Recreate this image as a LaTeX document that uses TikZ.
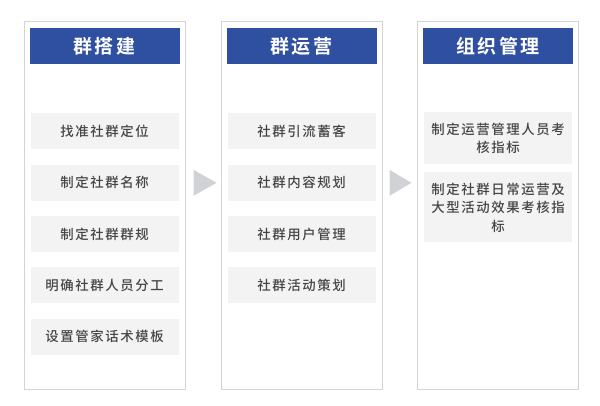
\documentclass[tikz,border=0pt]{standalone}
\usepackage{fontspec}
\usepackage{tikz}
\usetikzlibrary{positioning,calc}
\newfontfamily\cjk[LetterSpace=12,UprightFont=* Medium,BoldFont=* Bold]{Noto Sans CJK SC}
\definecolor{hdblue}{HTML}{2F4FA0}
\definecolor{itemgray}{HTML}{F3F3F3}
\definecolor{framegray}{HTML}{D4D4D4}
\definecolor{tipgray}{HTML}{D0D2D5}
\definecolor{txtgray}{HTML}{454545}
\begin{document}
\begin{tikzpicture}[x=1pt, y=1pt, line width=1pt]
\useasboundingbox (0,0) rectangle (600,406);
\tikzstyle{panel}=[draw=framegray,minimum width=161pt,minimum height=368pt,inner sep=0pt]
\tikzstyle{head}=[fill=hdblue,text=white,minimum width=150pt,minimum height=36pt,inner sep=0pt,outer sep=0pt,font=\cjk\bfseries\fontsize{19}{22}\selectfont]
\tikzstyle{item}=[fill=itemgray,text=txtgray,minimum width=148pt,minimum height=36pt,inner sep=0pt,outer sep=0pt,align=center,font=\cjk\fontsize{13.4}{18.5}\selectfont]
\node[panel] (p1) at (104.5,200) {}; %%
\node[panel] (p2) at (301.5,200) {}; %%
\node[panel] (p3) at (498,200) {}; %%
\node[head,below=6.5pt of p1.north] (h1) {群搭建}; %%
\node[head,below=6.5pt of p2.north] (h2) {群运营}; %%
\node[head,below=6.5pt of p3.north] (h3) {组织管理}; %%
\begin{scope}[node distance=15.3pt]
\node[item,below=49.5pt of h1] (a1) {找准社群定位}; %%
\node[item,below=of a1] (a2) {制定社群名称}; %%
\node[item,below=of a2] (a3) {制定社群群规}; %%
\node[item,below=of a3] (a4) {明确社群人员分工}; %%
\node[item,below=of a4] (a5) {设置管家话术模板}; %%
\node[item,below=49.5pt of h2] (b1) {社群引流蓄客}; %%
\node[item,below=of b1] (b2) {社群内容规划}; %%
\node[item,below=of b2] (b3) {社群用户管理}; %%
\node[item,below=of b3] (b4) {社群活动策划}; %%
\end{scope}
\node[item,minimum height=52pt,below=48.5pt of h3] (c1) {制定运营管理人员考\\核指标}; %%
\node[item,minimum height=70pt,below=8pt of c1] (c2) {制定社群日常运营及\\大型活动效果考核指\\标}; %%
\fill[tipgray] ($(p1.east |- a2)+(8,13)$) -- ++(23,-13) -- ++(-23,-13) -- cycle; %%
\fill[tipgray] ($(p2.east |- b2)+(7,13)$) -- ++(22,-13) -- ++(-22,-13) -- cycle; %%
\end{tikzpicture}
\end{document}
